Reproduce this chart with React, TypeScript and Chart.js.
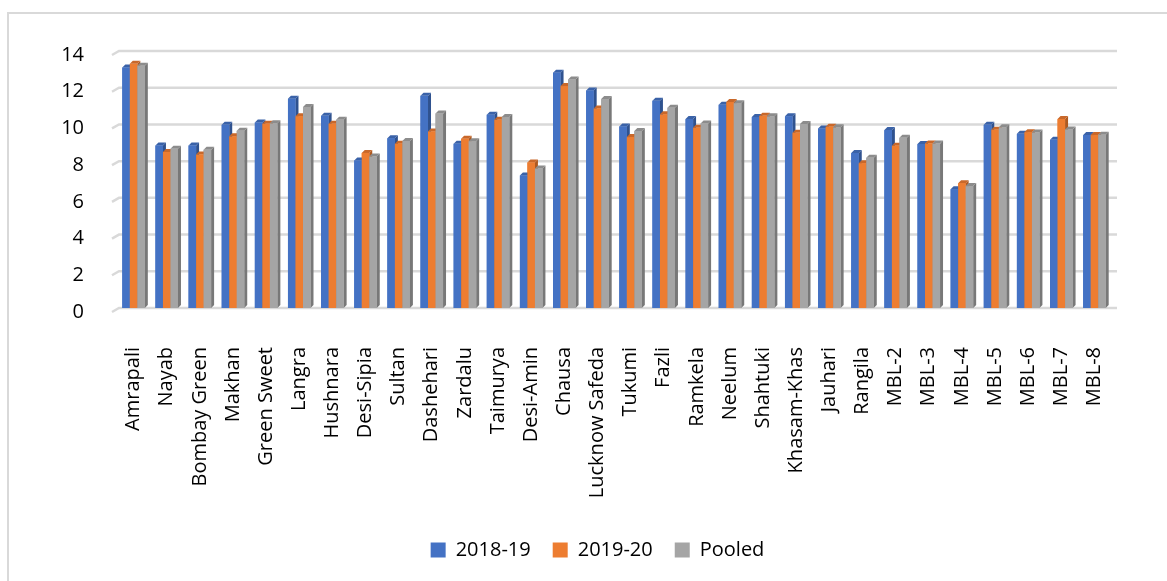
import React, { useEffect, useRef } from "react";
import { Chart, registerables } from "chart.js";

Chart.register(...registerables);

const categories = [
  "Amrapali", "Nayab", "Bombay Green", "Makhan", "Green Sweet", "Langra", "Hushnara",
  "Desi-Sipia", "Sultan", "Dashehari", "Zardalu", "Taimurya", "Desi-Amin", "Chausa",
  "Lucknow Safeda", "Tukumi", "Fazli", "Ramkela", "Neelum", "Shahtuki", "Khasam-Khas",
  "Jauhari", "Rangila", "MBL-2", "MBL-3", "MBL-4", "MBL-5", "MBL-6", "MBL-7", "MBL-8",
];

const series2018 = [
  13.1, 8.85, 8.85, 9.98, 10.1, 11.4, 10.47, 8.04, 9.25, 11.56, 8.95, 10.53, 7.22, 12.82,
  11.85, 9.89, 11.29, 10.29, 11.07, 10.4, 10.44, 9.78, 8.44, 9.69, 8.93, 6.47, 9.98, 9.49, 9.16, 9.42,
];
const series2019 = [
  13.3, 8.5, 8.36, 9.35, 10.04, 10.45, 10.04, 8.45, 8.95, 9.62, 9.22, 10.25, 7.93, 12.09,
  10.87, 9.31, 10.55, 9.82, 11.22, 10.47, 9.55, 9.87, 7.89, 8.84, 8.96, 6.8, 9.71, 9.58, 10.29, 9.42,
];
const seriesPooled = [
  13.2, 8.67, 8.62, 9.65, 10.06, 10.95, 10.25, 8.25, 9.1, 10.6, 9.09, 10.4, 7.6, 12.45,
  11.38, 9.64, 10.91, 10.05, 11.16, 10.44, 10.02, 9.84, 8.18, 9.27, 8.96, 6.64, 9.84, 9.56, 9.73, 9.44,
];
const seriesLabels = ["2018-19", "2019-20", "Pooled"];
const yTicks = [0, 2, 4, 6, 8, 10, 12, 14];

const frontColors = ["#4472C4", "#ED7D31", "#A5A5A5"];
const sideColors = ["#2F528F", "#AE5A21", "#787878"];
const topColors = ["#3A62A8", "#C9682A", "#8C8C8C"];

const FONT = "'Open Sans', sans-serif";

const floorGrid = {
  id: "floorGrid",
  beforeDatasetsDraw(chart: any) {
    const { ctx, chartArea } = chart;
    const y = chart.scales.y;
    ctx.save();
    ctx.strokeStyle = "#d9d9d9";
    ctx.lineWidth = 2.5;
    yTicks.forEach((v) => {
      const py = y.getPixelForValue(v);
      ctx.beginPath();
      ctx.moveTo(chartArea.left - 5, py + 4);
      ctx.lineTo(chartArea.left + 2, py);
      ctx.lineTo(chartArea.right + 6, py);
      ctx.stroke();
    });
    ctx.restore();
  },
};

const bar3d = {
  id: "bar3d",
  afterDatasetsDraw(chart: any) {
    const { ctx } = chart;
    const d = 3;
    ctx.save();
    chart.data.datasets.forEach((_ds: any, i: number) => {
      const meta = chart.getDatasetMeta(i);
      meta.data.forEach((el: any) => {
        const { x, y, base, width } = el.getProps(["x", "y", "base", "width"], true);
        const l = x - width / 2;
        const r = x + width / 2;
        ctx.fillStyle = sideColors[i];
        ctx.beginPath();
        ctx.moveTo(r, y);
        ctx.lineTo(r + d, y - d);
        ctx.lineTo(r + d, base - d);
        ctx.lineTo(r, base);
        ctx.closePath();
        ctx.fill();
        ctx.fillStyle = topColors[i];
        ctx.beginPath();
        ctx.moveTo(l, y);
        ctx.lineTo(l + d, y - d);
        ctx.lineTo(r + d, y - d);
        ctx.lineTo(r, y);
        ctx.closePath();
        ctx.fill();
        ctx.fillStyle = frontColors[i];
        ctx.fillRect(l, y, width, base - y);
      });
    });
    ctx.restore();
  },
};

const legendShift = {
  id: "legendShift",
  afterLayout(chart: any) {
    const lg = chart.legend;
    if (lg) {
      lg.left += 44;
    }
  },
};

export default function App() {
  const canvasRef = useRef<HTMLCanvasElement | null>(null);

  useEffect(() => {
    if (!canvasRef.current) return;
    const chart = new Chart(canvasRef.current, {
      type: "bar",
      data: {
        labels: categories,
        datasets: [series2018, series2019, seriesPooled].map((data, i) => ({
          label: seriesLabels[i],
          data,
          backgroundColor: frontColors[i],
          borderWidth: 0,
          barPercentage: 1,
          categoryPercentage: 0.68,
        })),
      },
      options: {
        responsive: false,
        animation: false,
        layout: { padding: { left: 40, right: 56, top: 51, bottom: 11 } },
        plugins: {
          tooltip: { enabled: false },
          legend: {
            position: "bottom",
            labels: {
              boxWidth: 15,
              boxHeight: 15,
              padding: 22,
              color: "#000",
              font: { family: FONT, size: 20 },
            },
          },
        },
        scales: {
          x: {
            grid: { display: false },
            border: { display: false },
            ticks: {
              autoSkip: false,
              maxRotation: 90,
              minRotation: 90,
              padding: 31,
              color: "#000",
              font: { family: FONT, size: 20 },
            },
            afterFit: (scale: any) => {
              scale.height = 210;
            },
          },
          y: {
            min: 0,
            max: 14,
            grid: { display: false },
            border: { display: false },
            ticks: {
              stepSize: 2,
              padding: 25,
              labelOffset: 4,
              color: "#000",
              font: { family: FONT, size: 20 },
            },
            afterFit: (scale: any) => {
              scale.width = 77;
            },
          },
        },
      },
      plugins: [floorGrid, bar3d, legendShift],
    });
    return () => chart.destroy();
  }, []);

  return (
    <div style={{ position: "absolute", left: 0, top: 0, width: 1167, height: 581, background: "#fff", overflow: "hidden" }}>
      <div
        style={{
          position: "absolute",
          left: 7,
          top: 12,
          width: 1200,
          height: 600,
          borderLeft: "2px solid #d9d9d9",
          borderTop: "2px solid #d9d9d9",
        }}
      />
      <canvas ref={canvasRef} width={1167} height={581} style={{ position: "absolute", left: 0, top: 0 }} />
    </div>
  );
}
